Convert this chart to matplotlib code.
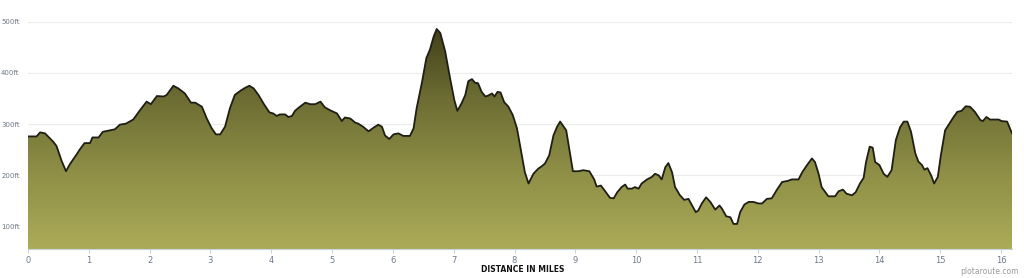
"""Elevation profile (plotaroute style) with gradient-filled area."""

import matplotlib

matplotlib.use("Agg")
import matplotlib.pyplot as plt  # noqa: E402
import numpy as np  # noqa: E402
from matplotlib.colors import LinearSegmentedColormap  # noqa: E402

# Distance (miles) and elevation (ft).
miles = [
    0.00, 0.14, 0.20, 0.28, 0.42, 0.47, 0.55, 0.625, 0.69, 0.80, 0.855, 0.93,
    1.02, 1.06, 1.16, 1.23, 1.35, 1.43, 1.51, 1.61, 1.73, 1.84, 1.95, 2.02,
    2.12, 2.23, 2.28, 2.39, 2.47, 2.58, 2.68, 2.75, 2.86, 2.94, 3.02, 3.09,
    3.16, 3.24, 3.32, 3.40, 3.49, 3.57, 3.64, 3.71, 3.79, 3.88, 3.97, 4.03,
    4.09, 4.14, 4.23, 4.28, 4.34, 4.39, 4.47, 4.56, 4.64, 4.72, 4.81, 4.88,
    4.97, 5.08, 5.16, 5.21, 5.30, 5.38, 5.43, 5.51, 5.60, 5.68, 5.76, 5.82,
    5.87, 5.94, 6.01, 6.09, 6.17, 6.28, 6.34, 6.39, 6.48, 6.55, 6.61, 6.67,
    6.72, 6.78, 6.86, 6.94, 7.01, 7.06, 7.13, 7.19, 7.24, 7.30, 7.35, 7.40,
    7.46, 7.52, 7.57, 7.63, 7.67, 7.72, 7.77, 7.83, 7.90, 7.97, 8.04, 8.10,
    8.17, 8.23, 8.31, 8.39, 8.45, 8.50, 8.57, 8.64, 8.70, 8.75, 8.81, 8.85,
    8.90, 8.96, 9.05, 9.13, 9.23, 9.31, 9.35, 9.42, 9.49, 9.57, 9.63, 9.69,
    9.76, 9.82, 9.86, 9.93, 9.98, 10.04, 10.09, 10.18, 10.26, 10.31, 10.37,
    10.42, 10.48, 10.53, 10.59, 10.64, 10.72, 10.79, 10.86, 10.92, 10.98,
    11.02, 11.08, 11.15, 11.22, 11.30, 11.37, 11.41, 11.48, 11.55, 11.60,
    11.66, 11.71, 11.78, 11.85, 11.93, 12.01, 12.07, 12.15, 12.23, 12.31,
    12.40, 12.49, 12.56, 12.67, 12.73, 12.81, 12.89, 12.94, 13.00, 13.05,
    13.11, 13.16, 13.27, 13.33, 13.40, 13.46, 13.55, 13.61, 13.68, 13.74,
    13.78, 13.84, 13.89, 13.93, 14.00, 14.07, 14.13, 14.20, 14.27, 14.34,
    14.40, 14.46, 14.52, 14.59, 14.64, 14.70, 14.74, 14.79, 14.85, 14.90,
    14.96, 15.01, 15.08, 15.15, 15.22, 15.28, 15.35, 15.42, 15.49, 15.57,
    15.66, 15.70, 15.76, 15.82, 15.96, 16.01, 16.10, 16.18,
]
elevation_ft = [
    276, 276, 284, 282, 265, 257, 229, 208, 222, 241, 251, 263,
    263, 274, 274, 285, 288, 290, 299, 301, 309, 327, 344, 339,
    355, 354, 357, 375, 370, 360, 342, 342, 334, 311, 292, 280,
    280, 295, 331, 357, 365, 371, 375, 370, 357, 339, 323, 321,
    316, 319, 319, 314, 316, 326, 334, 342, 339, 339, 344, 333,
    327, 321, 306, 313, 311, 303, 301, 295, 286, 293, 299, 295,
    278, 271, 280, 282, 277, 277, 292, 331, 383, 429, 446, 471,
    486, 478, 442, 390, 347, 326, 341, 357, 384, 388, 381, 380,
    363, 354, 356, 360, 354, 363, 362, 343, 334, 318, 292, 252,
    206, 184, 203, 213, 218, 223, 239, 278, 295, 305, 295, 288,
    252, 208, 208, 210, 208, 192, 178, 180, 169, 156, 155, 167,
    177, 182, 174, 174, 177, 174, 184, 192, 197, 203, 200,
    192, 216, 224, 206, 177, 161, 152, 154, 141, 128,
    131, 145, 157, 148, 133, 141, 135, 120, 118, 105,
    105, 128, 143, 148, 148, 145, 145, 154, 155, 171,
    187, 189, 192, 192, 206, 220, 233, 226, 203, 177,
    167, 159, 159, 169, 172, 164, 161, 167, 184, 195,
    226, 256, 254, 226, 220, 203, 197, 210, 269, 294,
    305, 305, 285, 243, 227, 220, 211, 214, 200, 184,
    197, 239, 288, 301, 314, 324, 326, 335, 334, 324,
    308, 306, 314, 309, 309, 306, 305, 282,
]
y_ticks = [100, 200, 300, 400, 500]
y_tick_labels = ["100ft", "200ft", "300ft", "400ft", "500ft"]
x_ticks = list(range(0, 17))

W, H = 1024, 278
fig = plt.figure(figsize=(W / 100, H / 100), dpi=100)
ax = fig.add_axes([28 / W, (H - 249) / H, (1012 - 28) / W, (249 - 8) / H])

x = np.array(miles)
y = np.array(elevation_ft)
y0, y1 = 56, 527
ax.set_xlim(0, x[-1])
ax.set_ylim(y0, y1)

# gradient fill clipped to the area under the profile
cmap = LinearSegmentedColormap.from_list(
    "olive", ["#abab58", "#8f8f47", "#6c6c33", "#3d3c18"])
grad = np.linspace(0, 1, 256).reshape(-1, 1)
img = ax.imshow(grad, cmap=cmap, aspect="auto", origin="lower",
                extent=(0, x[-1], y0, 500), zorder=1)
poly = ax.fill_between(x, y0, y, color="none", lw=0)
img.set_clip_path(poly.get_paths()[0], transform=ax.transData)
ax.plot(x, y, color="#1e1e14", lw=1.3, solid_joinstyle="round", zorder=3)

for t in y_ticks:
    ax.axhline(t, color="#ececec", lw=0.8, zorder=0)

ax.set_yticks(y_ticks)
ax.set_yticklabels(y_tick_labels)
ax.set_xticks(x_ticks)
ax.tick_params(axis="y", length=0, pad=6, labelsize=5, labelcolor="#707a8a")
ax.tick_params(axis="x", length=3, width=0.6, color="#c0c8d8", pad=2,
               labelsize=6, labelcolor="#707a8a")
for side in ("top", "right", "left"):
    ax.spines[side].set_visible(False)
ax.spines["bottom"].set_color("#c8d0da")
ax.spines["bottom"].set_linewidth(0.8)

fig.text(523 / W, 1 - 269 / H, "DISTANCE IN MILES", ha="center", va="center",
         fontsize=5.5, fontweight="bold", color="#111111")
fig.text(1019 / W, 1 - 271 / H, "plotaroute.com", ha="right", va="center",
         fontsize=5.5, color="#9a9a9a")

fig.savefig("out.png", dpi=100)
plt.close(fig)
